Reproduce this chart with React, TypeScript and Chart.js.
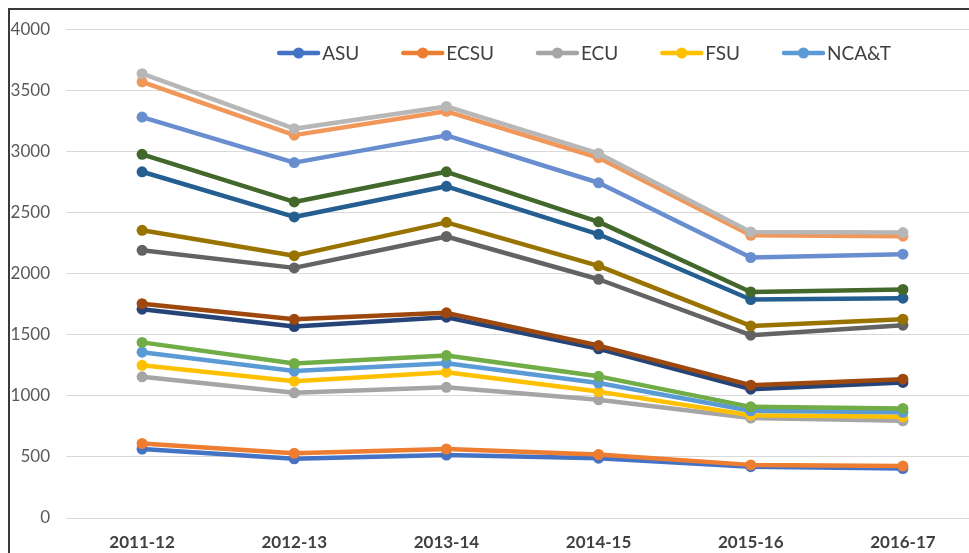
import React, { useEffect, useRef } from "react";
import { Chart, registerables } from "chart.js";

Chart.register(...registerables);

const categories = ["2011-12", "2012-13", "2013-14", "2014-15", "2015-16", "2016-17"];

const seriesNames = [
  "ASU", "ECSU", "ECU", "FSU", "NCA&T",
  "NCCU", "NCSU", "UNCA", "UNC-CH", "UNCC",
  "UNCG", "UNCP", "UNCW", "WCU", "WSSU",
];

const seriesColors = [
  "#4472C4", "#ED7D31", "#A5A5A5", "#FFC000", "#5B9BD5",
  "#70AD47", "#264478", "#9E480E", "#636363", "#997300",
  "#255E91", "#43682B", "#698ED0", "#F1975A", "#B7B7B7",
];

const asu = [565, 485, 515, 490, 420, 405];
const ecsu = [610, 530, 565, 520, 435, 425];
const ecu = [1156, 1025, 1070, 968, 818, 796];
const fsu = [1250, 1120, 1194, 1035, 842, 829];
const ncat = [1358, 1203, 1268, 1105, 878, 865];
const nccu = [1438, 1265, 1330, 1160, 910, 897];
const ncsu = [1710, 1568, 1644, 1385, 1055, 1110];
const unca = [1755, 1627, 1680, 1412, 1088, 1137];
const uncch = [2192, 2048, 2305, 1955, 1497, 1579];
const uncc = [2356, 2148, 2421, 2065, 1573, 1628];
const uncg = [2835, 2465, 2716, 2323, 1789, 1800];
const uncp = [2978, 2588, 2835, 2425, 1851, 1871];
const uncw = [3283, 2910, 3133, 2745, 2133, 2160];
const wcu = [3572, 3135, 3330, 2950, 2315, 2308];
const wssu = [3638, 3188, 3370, 2985, 2342, 2337];

const seriesValues = [asu, ecsu, ecu, fsu, ncat, nccu, ncsu, unca, uncch, uncc, uncg, uncp, uncw, wcu, wssu];

const yMin = 0;
const yMax = 4000;
const yStep = 500;
const legendCount = 5;

const FONT = "Lato, 'Open Sans', sans-serif";

const excelLegend = {
  id: "excelLegend",
  afterDraw(chart: any, _args: any, opts: any) {
    const ctx = chart.ctx;
    const items = chart.data.datasets.slice(0, opts.count);
    ctx.save();
    ctx.font = `${opts.fontSize}px ${FONT}`;
    const widths = items.map((d: any) => ctx.measureText(d.label).width);
    const sw = opts.swatch;
    const tg = opts.textGap;
    const gap = opts.gap;
    const total = widths.reduce((a: number, w: number) => a + sw + tg + w, 0) + gap * (items.length - 1);
    let x = opts.centerX - total / 2;
    const y = opts.y;
    items.forEach((d: any, i: number) => {
      ctx.strokeStyle = d.borderColor;
      ctx.lineWidth = d.borderWidth;
      ctx.lineCap = "round";
      ctx.beginPath();
      ctx.moveTo(x + 2, y);
      ctx.lineTo(x + sw - 2, y);
      ctx.stroke();
      ctx.fillStyle = d.borderColor;
      ctx.beginPath();
      ctx.arc(x + sw / 2, y, opts.dot, 0, Math.PI * 2);
      ctx.fill();
      ctx.fillStyle = opts.color;
      ctx.textBaseline = "middle";
      ctx.textAlign = "left";
      ctx.fillText(d.label, x + sw + tg, y + 1);
      x += sw + tg + widths[i] + gap;
    });
    ctx.restore();
  },
};

export default function App() {
  const ref = useRef<HTMLCanvasElement | null>(null);

  useEffect(() => {
    if (!ref.current) return;
    const n = seriesNames.length;
    const chart = new Chart(ref.current, {
      type: "line",
      data: {
        labels: categories,
        datasets: seriesNames.map((name, i) => ({
          label: name,
          data: seriesValues[i],
          borderColor: seriesColors[i],
          backgroundColor: seriesColors[i],
          pointBackgroundColor: seriesColors[i],
          pointBorderColor: seriesColors[i],
          borderWidth: 4.5,
          pointRadius: 5.5,
          pointBorderWidth: 0,
          borderCapStyle: "round",
          borderJoinStyle: "round",
          tension: 0,
          fill: false,
          order: n - i,
        })),
      },
      plugins: [excelLegend],
      options: {
        responsive: false,
        animation: false,
        layout: { padding: { top: 19.5, right: 21, bottom: 0, left: 0 } },
        plugins: {
          legend: { display: false },
          tooltip: { enabled: false },
          excelLegend: {
            count: legendCount,
            centerX: 574,
            y: 43,
            fontSize: 19,
            swatch: 43,
            textGap: 2,
            gap: 42,
            dot: 5.5,
            color: "#404040",
          },
        } as any,
        scales: {
          x: {
            offset: true,
            grid: { display: false, drawTicks: false },
            border: { display: false },
            ticks: {
              color: "#404040",
              font: { family: FONT, size: 17, weight: "bold" },
              padding: 14,
              maxRotation: 0,
            },
            afterFit: (s: any) => {
              s.height = 37;
            },
          },
          y: {
            min: yMin,
            max: yMax,
            grid: { color: "#D9D9D9", lineWidth: 1, drawTicks: false },
            border: { display: false },
            ticks: {
              stepSize: yStep,
              color: "#595959",
              font: { family: FONT, size: 17 },
              padding: 16,
              callback: (v: any) => String(v),
            },
            afterFit: (s: any) => {
              s.width = 56;
              s.paddingTop = 0;
              s.paddingBottom = 0;
            },
          },
        },
      },
    });
    return () => chart.destroy();
  }, []);

  return (
    <div
      style={{
        position: "fixed",
        left: 8,
        top: 8,
        right: 0,
        bottom: 0,
        overflow: "hidden",
        borderLeft: "2px solid #3a3a3a",
        borderTop: "2px solid #3a3a3a",
        background: "#fff",
      }}
    >
      <canvas ref={ref} width={990} height={545} style={{ display: "block" }} />
    </div>
  );
}
